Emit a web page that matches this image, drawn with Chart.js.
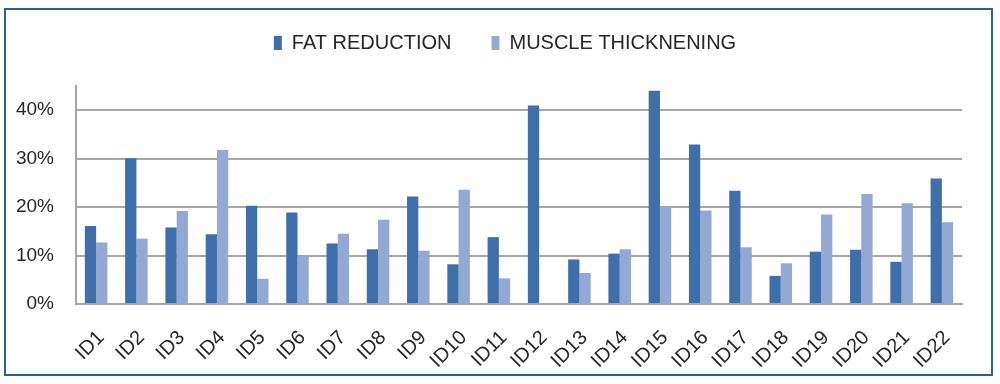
<!DOCTYPE html>
<html>
<head>
<meta charset="utf-8">
<script src="https://cdn.jsdelivr.net/npm/chart.js@4.4.1/dist/chart.umd.min.js"></script>
<style>
    html, body { margin: 0; padding: 0; background: #fff; }
    #wrap { position: relative; width: 1000px; height: 384px; }
    #frame {
        position: absolute; left: 4px; top: 8px; width: 985px; height: 364px;
        border: 2px solid #2b6199; pointer-events: none;
    }
    canvas { position: absolute; left: 0; top: 0; }
</style>
</head>
<body>
<div id="wrap">
    <canvas id="chart" width="1000" height="384"></canvas>
    <div id="frame"></div>
</div>
<script>
// Chart data (percent)
const categories = ['ID1', 'ID2', 'ID3', 'ID4', 'ID5', 'ID6', 'ID7', 'ID8', 'ID9', 'ID10', 'ID11',
    'ID12', 'ID13', 'ID14', 'ID15', 'ID16', 'ID17', 'ID18', 'ID19', 'ID20', 'ID21', 'ID22'];
const fatReduction = [16.1, 30.1, 15.8, 14.4, 20.3, 18.9, 12.5, 11.3, 22.2, 8.2, 13.8,
    41.0, 9.2, 10.4, 44.0, 32.9, 23.4, 5.8, 10.8, 11.2, 8.7, 25.9];
const muscleThickening = [12.7, 13.5, 19.2, 31.8, 5.2, 10.0, 14.5, 17.4, 11.0, 23.6, 5.3,
    0, 6.4, 11.3, 19.9, 19.3, 11.7, 8.4, 18.5, 22.7, 20.8, 16.9];
const yTicks = [0, 10, 20, 30, 40];

const gridColor = '#a6a6a6';
const textColor = '#262626';
const fontFamily = '"Liberation Sans", Arial, sans-serif';

// extra space under the legend, and centre it on the whole frame
const legendGap = {
    id: 'legendGap',
    beforeInit(chart) {
        const fit = chart.legend.fit;
        chart.legend.fit = function () {
            fit.bind(chart.legend)();
            this.height += 23;
        };
    },
    afterLayout(chart) {
        chart.legend.left += 24;
        chart.legend.right += 24;
    }
};

const ctx = document.getElementById('chart');
const chart = new Chart(ctx, {
    type: 'bar',
    data: {
        labels: categories,
        datasets: [
            {
                label: 'FAT REDUCTION',
                data: fatReduction,
                backgroundColor: '#3e6fab',
                borderWidth: 0
            },
            {
                label: 'MUSCLE THICKNENING',
                data: muscleThickening,
                backgroundColor: '#93a9d3',
                borderWidth: 0
            }
        ]
    },
    plugins: [legendGap],
    options: {
        responsive: false,
        animation: false,
        layout: {
            padding: { left: 0, right: 38, top: -7, bottom: 0 }
        },
        datasets: {
            bar: {
                categoryPercentage: 0.56,
                barPercentage: 1.0
            }
        },
        plugins: {
            legend: {
                position: 'top',
                labels: {
                    boxWidth: 8,
                    boxHeight: 14,
                    padding: 40,
                    color: textColor,
                    font: { family: fontFamily, size: 20 }
                }
            },
            tooltip: { enabled: false }
        },
        scales: {
            x: {
                grid: { display: false, drawTicks: false },
                border: { display: true, color: gridColor, width: 2 },
                ticks: {
                    color: textColor,
                    font: { family: fontFamily, size: 20 },
                    minRotation: 45,
                    maxRotation: 45,
                    padding: 22,
                    labelOffset: 5
                },
                afterFit: (scale) => { scale.height = 80; }
            },
            y: {
                min: 0,
                max: 45,
                grid: { color: gridColor, lineWidth: 2, drawTicks: false },
                border: { display: true, color: gridColor, width: 2 },
                afterBuildTicks: (axis) => {
                    axis.ticks = yTicks.map(v => ({ value: v }));
                },
                ticks: {
                    color: textColor,
                    font: { family: fontFamily, size: 19 },
                    padding: 22,
                    callback: (v) => v + '%'
                },
                afterFit: (scale) => { scale.width = 76; }
            }
        }
    }
});
</script>
</body>
</html>
